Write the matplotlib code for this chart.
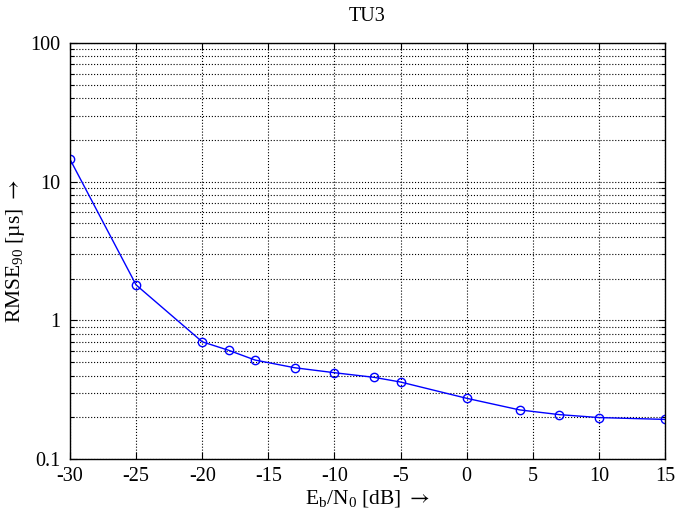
import numpy as np
import matplotlib.pyplot as plt
from matplotlib.ticker import LogLocator, FixedLocator, NullFormatter

# values
ebn0 = [-30, -25, -20, -18, -16, -13, -10, -7, -5, 0, 4, 7, 10, 15]
rmse90 = [14.5, 1.80, 0.70, 0.608, 0.517, 0.455, 0.419, 0.388, 0.359, 0.274, 0.226, 0.209, 0.199, 0.193]
xticks = [-30, -25, -20, -15, -10, -5, 0, 5, 10, 15]
yticks = [0.1, 1, 10, 100]
yticklabels = ["0.1", "1", "10", "100"]

plt.rcParams['font.family'] = ['Liberation Serif', 'DejaVu Serif']
plt.rcParams['mathtext.fontset'] = 'stix'

fig = plt.figure(figsize=(6.76, 5.11), dpi=100)
ax = fig.add_axes([70 / 676, 1 - 459 / 511, 595 / 676, 416 / 511])

ax.plot(ebn0, rmse90, '-', color='blue', lw=1.0, marker='o', ms=6,
        mfc='none', mec='blue', mew=1.0)

ax.set_yscale('log')
ax.set_xlim(-30, 15)
ax.set_ylim(0.1, 100)
ax.set_xticks(xticks)
ax.set_xticklabels([str(t) for t in xticks])
ax.yaxis.set_major_locator(FixedLocator(yticks))
ax.set_yticklabels(yticklabels)
ax.yaxis.set_minor_locator(LogLocator(base=10, subs=np.arange(2, 10)))
ax.yaxis.set_minor_formatter(NullFormatter())

ax.grid(True, which='major', color='black', ls=':', lw=0.8)
ax.grid(True, which='minor', axis='y', color='black', ls=':', lw=0.8)
ax.set_axisbelow(True)

ax.tick_params(which='both', direction='in', top=True, right=True, labelsize=14.5)
ax.tick_params(axis='y', pad=7)
ax.tick_params(axis='x', pad=6)
ax.tick_params(which='major', length=5, width=0.8)
ax.tick_params(which='minor', length=3, width=0.8)
for s in ax.spines.values():
    s.set_linewidth(1.0)

ax.set_title("TU3", fontsize=14.5, pad=16)
ax.set_xlabel(r"$\mathregular{E_b/N_0}$ [dB] $\rightarrow$", fontsize=15.5, labelpad=1)
ax.set_ylabel(r"RMSE$\mathregular{_{90}}$ [µs] $\rightarrow$", fontsize=15.5, labelpad=2)

fig.savefig("out.png", dpi=100)
